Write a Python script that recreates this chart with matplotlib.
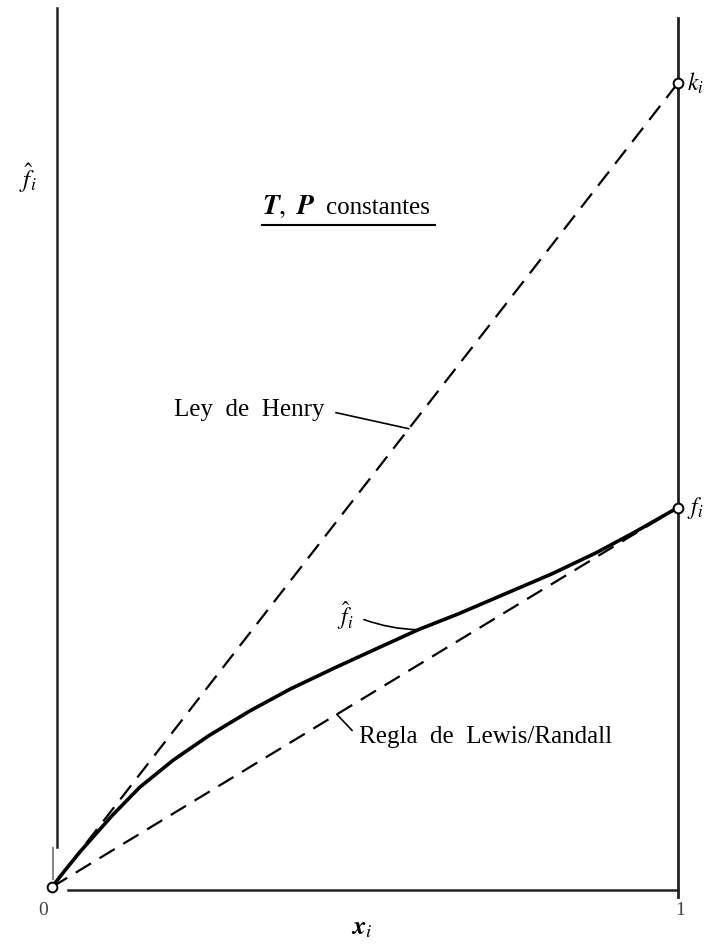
import matplotlib.pyplot as plt

plt.rcParams['font.family'] = ['Liberation Serif', 'DejaVu Serif']
plt.rcParams['mathtext.fontset'] = 'stix'

# Henry constant k_i and pure-component fugacity f_i (k_i scaled to 1)
k_i = 1.0
f_i = 0.472

# fugacity of species i in solution vs mole fraction x_i
x_curve = [0.0, 0.02, 0.045, 0.07, 0.095, 0.14, 0.194, 0.25, 0.316, 0.38,
           0.45, 0.52, 0.585, 0.65, 0.737, 0.80, 0.87, 0.93, 1.0]
f_curve = [0.0, 0.020, 0.044, 0.066, 0.088, 0.124, 0.158, 0.188, 0.219,
           0.246, 0.272, 0.297, 0.320, 0.340, 0.369, 0.390, 0.416, 0.441,
           0.472]

# where the labels' leader lines touch the lines
x_henry_note = 0.57
x_lewis_note = 0.455
i_curve_note = 12

fig = plt.figure(figsize=(7.11, 9.47), dpi=100)
ax = fig.add_axes([0, 0, 1, 1])
ax.set_xlim(-0.0831, 1.0527)
ax.set_ylim(-0.0746, 1.1032)
ax.axis('off')

# frame: left axis, x axis, right vertical at x_i = 1
ax.plot([0.008, 0.008], [0.05, 1.093], color='#222222', lw=1.8)
ax.plot([0.002, 0.002], [0.01, 0.048], color='#888888', lw=1.5)
ax.plot([0.026, 1.0], [-0.004, -0.004], color='#222222', lw=1.8)
ax.plot([1.0, 1.0], [-0.012, 1.081], color='#222222', lw=2.0)

dash = (0, (8, 4.5))
# Henry's law
ax.plot([0, 1], [0, k_i], color='black', lw=1.6, linestyle=dash)
# Lewis/Randall rule
ax.plot([0, 1], [0, f_i], color='black', lw=1.6, linestyle=dash)
# actual fugacity
ax.plot(x_curve, f_curve, color='black', lw=2.6, solid_capstyle='round',
        solid_joinstyle='round')

# end points
ax.plot([0, 1, 1], [0, k_i, f_i], 'o', ms=7, mfc='white', mec='black', mew=1.4)

ax.text(1.014, k_i, r'$k_i$', fontsize=17, va='center', ha='left')
ax.text(1.014, f_i, r'$f_i$', fontsize=17, va='center', ha='left')

# axis labels
ax.text(-0.038, 0.882, r'$\hat{f}_i$', fontsize=18, ha='center', va='center')
ax.text(0.495, -0.052, r'$\boldsymbol{x}_i$', fontsize=19, ha='center', va='center')
ax.text(-0.014, -0.029, '0', fontsize=14, ha='center', va='center', color='#444444')
ax.text(1.003, -0.029, '1', fontsize=14, ha='center', va='center', color='#444444')

# conditions
ax.text(0.335, 0.846, r'$\boldsymbol{T,\ P}$', fontsize=20, ha='left', va='center')
ax.text(0.437, 0.844, 'constantes', fontsize=18, ha='left', va='center')
ax.plot([0.335, 0.611], [0.823, 0.823], color='black', lw=1.5)

# labels with leader lines
ax.annotate('Ley  de  Henry', xy=(x_henry_note, k_i * x_henry_note),
            xytext=(0.436, 0.593), fontsize=18, ha='right', va='center',
            arrowprops=dict(arrowstyle='-', color='black', lw=1.2,
                            relpos=(1, 0.5), shrinkA=6, shrinkB=0))
ax.annotate(r'$\hat{f}_i$', xy=(x_curve[i_curve_note], f_curve[i_curve_note]),
            xytext=(0.468, 0.338), fontsize=17, ha='center', va='center',
            arrowprops=dict(arrowstyle='-', color='black', lw=1.2,
                            relpos=(1, 0.5), shrinkA=6, shrinkB=0,
                            connectionstyle='arc3,rad=0.1'))
ax.annotate('Regla  de  Lewis/Randall', xy=(x_lewis_note, f_i * x_lewis_note),
            xytext=(0.49, 0.186), fontsize=18, ha='left', va='center',
            arrowprops=dict(arrowstyle='-', color='black', lw=1.2,
                            relpos=(0, 0.5), shrinkA=4, shrinkB=0))

fig.savefig('out.png', dpi=100)
